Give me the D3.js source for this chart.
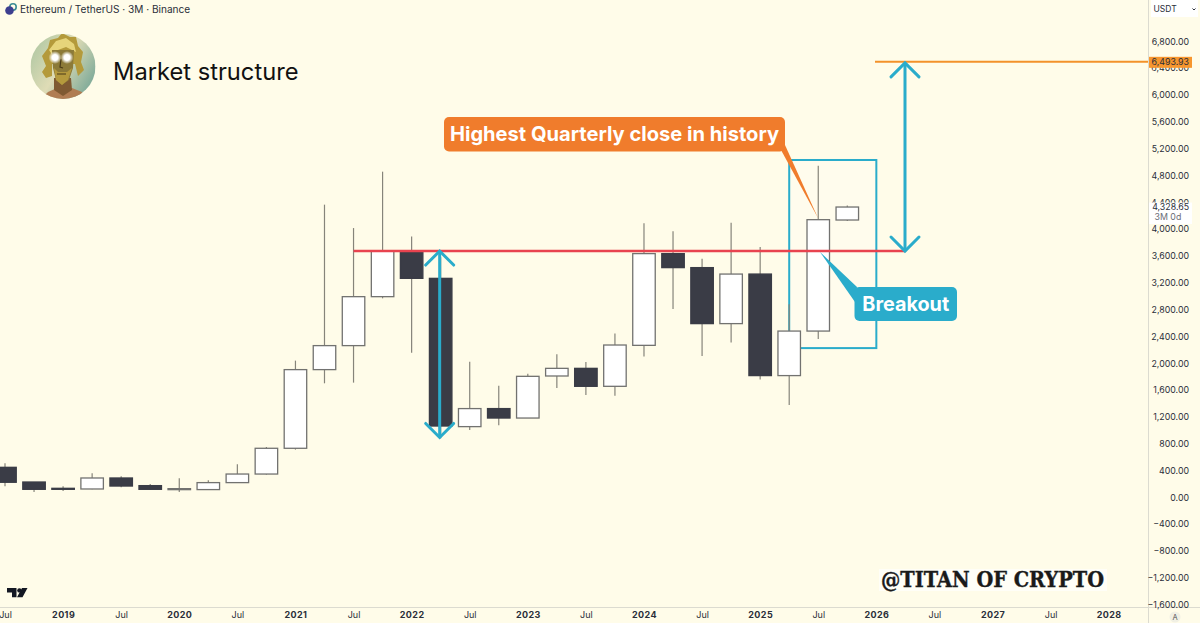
<!DOCTYPE html>
<html>
<head>
<meta charset="utf-8">
<script src="https://cdn.jsdelivr.net/npm/d3@7/dist/d3.min.js"></script>
<style>
	html, body { margin: 0; padding: 0; background: #fffce9; overflow: hidden; }
	text { font-family: Inter, "Noto Sans", sans-serif; }
</style>
</head>
<body>
<div id="chart"></div>
<script>
//	Quarterly candles, Jul 2018 -> Oct 2025
var quarters = ["2018-07","2018-10","2019-01","2019-04","2019-07","2019-10","2020-01","2020-04","2020-07","2020-10",
	"2021-01","2021-04","2021-07","2021-10","2022-01","2022-04","2022-07","2022-10","2023-01","2023-04",
	"2023-07","2023-10","2024-01","2024-04","2024-07","2024-10","2025-01","2025-04","2025-07","2025-10"];
var opens = [447,228,134,124,288,174,124,115,219,347,731,1904,2262,2992,3668,3265,1054,1323,1182,1809,1923,1655,2266,3634,3425,2590,3329,1815,2479,4135];
var highs = [507,228,164,358,313,198,283,253,492,750,2038,4364,4015,4856,3891,3580,2023,1665,1844,2132,2017,2441,4085,3966,3559,4096,3732,2878,4946,4350];
var lows = [164,79,94,119,149,109,79,109,215,338,711,1700,1710,2967,2157,880,1003,1073,1182,1630,1525,1516,2098,2808,2107,2307,1755,1376,2360,4120];
var closes = [224,119,119,288,168,119,129,219,347,731,1904,2262,2992,3668,3265,1063,1323,1182,1804,1923,1655,2271,3634,3425,2590,3329,1815,2479,4140,4328.65];

//	Axis labels, one every two quarters starting Jul 2018
var timeLabels = ["Jul","2019","Jul","2020","Jul","2021","Jul","2022","Jul","2023","Jul","2024","Jul","2025","Jul","2026","Jul","2027","Jul","2028"];
var priceTicks = [-1600,-1200,-800,-400,0,400,800,1200,1600,2000,2400,2800,3200,3600,4000,4400,4800,5200,5600,6000,6400,6800];

//	Annotation levels
var breakoutLevel = 3672,
	targetLevel = 6493.93,
	lastClose = 4328.65,
	boxTop = 5030,
	boxBottom = 2225,
	drawdownLow = 900;

var W = 1200, H = 623,
	axisX = 1148, axisY = 607;

var colors = {
	bg: "#fffce9",
	dark: "#3a3c46",
	wick: "#86847a",
	outline: "#727270",
	teal: "#2aaccb",
	red: "#e8434f",
	orange: "#f3922a",
	callout: "#f07c2c",
	text: "#2a2e39"
};

var x = d3.scaleLinear().domain([0, 38]).range([5, 1108.7]);
var y = d3.scaleLinear().domain([-1600, 6800]).range([604.6, 41.3]);
var candleW = 22.5;

var svg = d3.select("#chart")
	.append("svg")
	.attr("width", W)
	.attr("height", H)
	.attr("display", "block")
	.style("background", colors.bg);

loadUI();

function loadUI() {
	priceBox();
	candles();
	levels();
	arrows();
	callouts();
	axes();
	header();
	avatar();
	watermark();
}

function priceBox() {
	svg.append("rect")
		.attr("x", x(27))
		.attr("y", y(boxTop))
		.attr("width", x(30) - x(27))
		.attr("height", y(boxBottom) - y(boxTop))
		.attr("fill", "#fff")
		.attr("fill-opacity", 0.2)
		.attr("stroke", colors.teal)
		.attr("stroke-width", 2);
}

function candles() {
	var g = svg.append("g").attr("class", "candles");

	var rows = g.selectAll("g")
		.data(quarters)
		.enter()
		.append("g");

	rows.append("line")
		.attr("x1", function(d, i) { return x(i); })
		.attr("x2", function(d, i) { return x(i); })
		.attr("y1", function(d, i) { return y(highs[i]); })
		.attr("y2", function(d, i) { return y(lows[i]); })
		.attr("stroke", colors.wick)
		.attr("stroke-width", 1.2);

	rows.append("rect")
		.attr("x", function(d, i) { return x(i) - candleW / 2; })
		.attr("y", function(d, i) { return y(Math.max(opens[i], closes[i])); })
		.attr("width", candleW)
		.attr("height", function(d, i) { return Math.max(1, Math.abs(y(opens[i]) - y(closes[i]))); })
		.attr("fill", function(d, i) { return closes[i] >= opens[i] ? "#fff" : colors.dark; })
		.attr("stroke", function(d, i) { return closes[i] >= opens[i] ? colors.outline : colors.dark; })
		.attr("stroke-width", 1.3);
}

function levels() {
	//	Breakout level
	svg.append("line")
		.attr("x1", x(12))
		.attr("x2", 905)
		.attr("y1", y(breakoutLevel))
		.attr("y2", y(breakoutLevel))
		.attr("stroke", colors.red)
		.attr("stroke-width", 2.6);

	//	Target level
	svg.append("line")
		.attr("x1", 875)
		.attr("x2", axisX)
		.attr("y1", y(targetLevel))
		.attr("y2", y(targetLevel))
		.attr("stroke", colors.orange)
		.attr("stroke-width", 2);
}

function arrow(px, y1, y2) {
	var g = svg.append("g")
		.attr("fill", "none")
		.attr("stroke", colors.teal)
		.attr("stroke-width", 3)
		.attr("stroke-linecap", "round")
		.attr("stroke-linejoin", "miter");

	g.append("line")
		.attr("x1", px).attr("x2", px)
		.attr("y1", y1 + 1).attr("y2", y2 - 1);

	[[y1, 14], [y2, -14]].forEach(function(e) {
		g.append("polyline")
			.attr("points", [[px - 14, e[0] + e[1]].join(','),
					[px, e[0]].join(','),
					[px + 14, e[0] + e[1]].join(',')].join(' '));
	});
}

function arrows() {
	arrow(x(15) - 1, y(breakoutLevel), y(drawdownLow) + 0.5);
	arrow(905, y(targetLevel) + 1, y(breakoutLevel));
}

function callout(bx, by, bw, bh, tail, fill, label, fontSize) {
	svg.append("polygon")
		.attr("points", tail.map(function(p) { return p.join(','); }).join(' '))
		.attr("fill", fill);

	svg.append("rect")
		.attr("x", bx)
		.attr("y", by)
		.attr("width", bw)
		.attr("height", bh)
		.attr("rx", 5)
		.attr("fill", fill);

	svg.append("text")
		.attr("x", bx + bw / 2)
		.attr("y", by + bh / 2)
		.attr("dy", "0.36em")
		.attr("text-anchor", "middle")
		.attr("fill", "#fff")
		.attr("font-size", fontSize)
		.attr("font-weight", 700)
		.text(label);
}

function callouts() {
	callout(444, 117, 341, 34.5, [[781,150],[785,145],[818,218]], colors.callout, "Highest Quarterly close in history", 20.1);
	callout(854.5, 287, 102.5, 34, [[857,287],[855,302],[820,252]], colors.teal, "Breakout", 19.8);
}

function axes() {
	//	Axis separators
	svg.append("line")
		.attr("x1", axisX + 0.5).attr("x2", axisX + 0.5)
		.attr("y1", 0).attr("y2", H)
		.attr("stroke", "#dcdbd0");
	svg.append("line")
		.attr("x1", 0).attr("x2", W)
		.attr("y1", axisY + 0.5).attr("y2", axisY + 0.5)
		.attr("stroke", "#dcdbd0");

	var fmt = d3.format(",.2f");

	var priceAxis = d3.axisRight(y)
		.tickValues(priceTicks)
		.tickSize(0)
		.tickPadding(0)
		.tickFormat(function(d) { return fmt(d).replace("-", "\u2212"); });

	var gy = svg.append("g")
		.attr("transform", "translate(1189,0)")
		.call(priceAxis);
	gy.select(".domain").remove();
	gy.selectAll("text")
		.attr("text-anchor", "end")
		.attr("fill", colors.text)
		.style("font-family", "Inter, sans-serif")
		.attr("font-size", 8.8);

	var timeAxis = d3.axisBottom(x)
		.tickValues(timeLabels.map(function(d, i) { return i * 2; }))
		.tickSize(0)
		.tickPadding(0)
		.tickFormat(function(d) { return timeLabels[d / 2]; });

	var gx = svg.append("g")
		.attr("transform", "translate(0,612)")
		.call(timeAxis);
	gx.select(".domain").remove();
	gx.selectAll("text")
		.attr("fill", colors.text)
		.style("font-family", "Inter, sans-serif")
		.attr("font-size", 9)
		.attr("font-weight", function(d) { return d % 4 == 2 ? 700 : 400; })
		.attr("letter-spacing", function(d) { return d % 4 == 2 ? 0.4 : 0; });

	//	Target price tag
	svg.append("rect")
		.attr("x", axisX + 1)
		.attr("y", y(targetLevel) - 5)
		.attr("width", 43)
		.attr("height", 11)
		.attr("fill", "#f7962e");
	svg.append("text")
		.attr("x", 1189)
		.attr("y", y(targetLevel))
		.attr("dy", "0.36em")
		.attr("text-anchor", "end")
		.attr("fill", colors.text)
		.attr("font-size", 8.8)
		.text(fmt(targetLevel));

	//	Last price tag
	svg.append("rect")
		.attr("x", axisX + 1)
		.attr("y", y(lastClose) - 4.5)
		.attr("width", 43)
		.attr("height", 21.5)
		.attr("fill", "#fff");
	svg.append("text")
		.attr("x", 1189)
		.attr("y", y(lastClose))
		.attr("dy", "0.36em")
		.attr("text-anchor", "end")
		.attr("fill", colors.text)
		.attr("font-size", 8.8)
		.text(fmt(lastClose));
	svg.append("text")
		.attr("x", 1154.5)
		.attr("y", y(lastClose) + 10)
		.attr("dy", "0.36em")
		.attr("fill", "#6a6d78")
		.attr("font-size", 8.8)
		.text("3M 0d");

	//	Currency selector
	svg.append("rect")
		.attr("x", 1151).attr("y", 0)
		.attr("width", 47).attr("height", 17)
		.attr("fill", "#fff");
	svg.append("text")
		.attr("x", 1153.5).attr("y", 12)
		.attr("fill", colors.text)
		.attr("font-size", 8.5)
		.text("USDT");
	svg.append("path")
		.attr("d", "M1192.5 8.5l1.5 1.5 1.5-1.5")
		.attr("fill", "none")
		.attr("stroke", colors.text);

	//	Auto scale button
	svg.append("circle")
		.attr("cx", 1175).attr("cy", 617).attr("r", 5.5)
		.attr("fill", "#f1f0e4");
	svg.append("text")
		.attr("x", 1175).attr("y", 620)
		.attr("text-anchor", "middle")
		.attr("fill", "#555")
		.attr("font-size", 7.5)
		.text("A");

	//	TradingView mark
	svg.append("path")
		.attr("d", "M7 588h9.5v9.2H12v-4.7H7z M22 588h5.5l-5 9.2H17z")
		.attr("fill", "#131722");
	svg.append("circle")
		.attr("cx", 19.4).attr("cy", 590.4).attr("r", 2.2)
		.attr("fill", "#131722");
}

function header() {
	//	Symbol icon
	svg.append("circle").attr("cx", 13).attr("cy", 7).attr("r", 3.2)
		.attr("fill", "none").attr("stroke", "#3c8c93").attr("stroke-width", 1.6);
	svg.append("circle").attr("cx", 9.5).attr("cy", 10.5).attr("r", 4.3)
		.attr("fill", "#3d3f8f");

	svg.append("text")
		.attr("x", 20).attr("y", 13)
		.attr("fill", "#2a2e39")
		.attr("font-size", 10.1)
		.text("Ethereum / TetherUS \u00b7 3M \u00b7 Binance");

	svg.append("text")
		.attr("x", 113).attr("y", 80)
		.attr("fill", "#111")
		.attr("font-size", 23.7)
		.text("Market structure");
}

function avatar() {
	var cx = 63, cy = 66.5, r = 32.5;

	var defs = svg.append("defs");
	defs.append("clipPath").attr("id", "avatar-clip")
		.append("circle").attr("cx", cx).attr("cy", cy).attr("r", r);
	defs.append("filter").attr("id", "avatar-soft")
		.append("feGaussianBlur").attr("stdDeviation", 0.7);
	var sky = defs.append("linearGradient").attr("id", "avatar-sky")
		.attr("x1", "0%").attr("y1", "0%").attr("x2", "100%").attr("y2", "60%");
	sky.append("stop").attr("offset", "0%").attr("stop-color", "#a8c4a0");
	sky.append("stop").attr("offset", "55%").attr("stop-color", "#dfdcb6");
	sky.append("stop").attr("offset", "100%").attr("stop-color", "#86ae9b");
	var glow = defs.append("radialGradient").attr("id", "avatar-glow");
	glow.append("stop").attr("offset", "45%").attr("stop-color", "#fff");
	glow.append("stop").attr("offset", "100%").attr("stop-color", "#fff").attr("stop-opacity", 0);

	var clip = svg.append("g").attr("clip-path", "url(#avatar-clip)");
	clip.append("rect").attr("x", cx - r).attr("y", cy - r)
		.attr("width", r * 2).attr("height", r * 2)
		.attr("fill", "url(#avatar-sky)");

	var g = clip.append("g").attr("filter", "url(#avatar-soft)");

	//	Chest and neck
	g.append("path")
		.attr("d", "M40 100 L48 92 L57 88 L72 88 L82 92 L88 100 Z")
		.attr("fill", "#b07d52");
	g.append("path")
		.attr("d", "M54 78 L54 90 L63 96 L72 90 L71 78 Z")
		.attr("fill", "#7f5a30");

	//	Hair
	g.append("path")
		.attr("d", "M46 78 L42 72 L46 66 L42 56 L48 48 L50 40 L58 38 L62 33 L70 37 L76 37 L78 46 L83 52 L81 62 L84 70 L78 76 L75 64 L52 64 L52 76 Z")
		.attr("fill", "#b49a3a");
	g.append("path")
		.attr("d", "M49 50 L56 41 L66 38 L74 44 L76 52 L66 47 L58 50 L53 56 Z")
		.attr("fill", "#e6d47a");

	//	Face and beard
	g.append("path")
		.attr("d", "M52 50 L74 50 L73 68 L69 80 L62 85 L56 80 L53 68 Z")
		.attr("fill", "#8c7a38");
	g.append("path")
		.attr("d", "M54 68 L58 72 L67 72 L72 68 L68 80 L62 85 L56 80 Z")
		.attr("fill", "#b59a3c");
	g.append("path")
		.attr("d", "M61 59 L60 67 L63 68 M57 74 L66 74")
		.attr("stroke", "#4a3b18")
		.attr("stroke-width", 1.2)
		.attr("fill", "none");

	//	Glowing eyes
	[55, 67].forEach(function(ex) {
		clip.append("circle").attr("cx", ex).attr("cy", 57.5).attr("r", 6.5)
			.attr("fill", "url(#avatar-glow)");
	});
}

function watermark() {
	svg.append("rect")
		.attr("x", 879).attr("y", 569)
		.attr("width", 228).attr("height", 22)
		.attr("fill", "#fff")
		.attr("fill-opacity", 0.65);
	svg.append("text")
		.attr("x", 881).attr("y", 587)
		.attr("fill", "#1a1a1a")
		.attr("stroke", "#1a1a1a")
		.attr("stroke-width", 0.4)
		.attr("font-size", 21.5)
		.attr("font-weight", 700)
		.style("font-family", "'DejaVu Serif', serif")
		.attr("textLength", 223)
		.attr("lengthAdjust", "spacingAndGlyphs")
		.text("@TITAN OF CRYPTO");
}
</script>
</body>
</html>
